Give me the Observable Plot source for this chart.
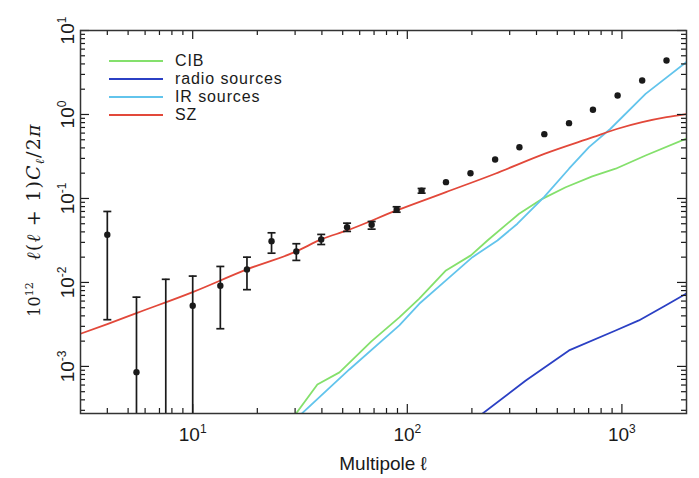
<!DOCTYPE html>
<html><head><meta charset="utf-8">
<script src="https://cdn.jsdelivr.net/npm/d3@7"></script>
<script src="https://cdn.jsdelivr.net/npm/@observablehq/plot@0.6"></script>
<style>body{margin:0;background:#fff} svg{display:block}</style>
</head><body><div id="chart"></div>
<script>
// ---- legend / series ----
const seriesNames = ["CIB", "radio sources", "IR sources", "SZ"];
const seriesColors = ["#84e06c", "#2b40c4", "#62c4ec", "#e2483a"];

// ---- measured band powers (black points) ----
const dataEll = [4, 5.47, 7.49, 10, 13.45, 17.9, 23.3, 30.4, 39.7, 52.4, 68.2, 89.2, 116.6, 151.4, 197, 256.6, 333, 435, 567, 733, 955, 1243, 1614];
const dataVal = [0.037, 8.55e-4, null, 5.28e-3, 9.14e-3, 0.0143, 0.031, 0.0234, 0.0325, 0.0455, 0.0486, 0.0733, 0.1235, 0.1563, 0.2, 0.291, 0.408, 0.583, 0.788, 1.138, 1.683, 2.54, 4.39];
const dataHi  = [0.070, 6.68e-3, 0.0109, 0.0119, 0.0155, 0.020, 0.039, 0.0289, 0.0373, 0.0508, 0.0532, 0.0796, 0.1315, null, null, null, null, null, null, null, null, null, null];
const dataLo  = [0.0036, 1e-5, 1e-5, 1e-5, 2.81e-3, 8.2e-3, 0.0223, 0.0183, 0.0283, 0.0405, 0.0431, 0.0686, 0.1156, null, null, null, null, null, null, null, null, null, null];

// ---- model curves ----
const cibEll = [29.5, 38.1, 48.3, 68, 91.8, 113.7, 151.4, 197.8, 236.3, 331.9, 425.8, 547, 727.5, 935, 1289, 2000];
const cibVal = [2.5e-4, 6.1e-4, 8.5e-4, 1.99e-3, 3.83e-3, 6.4e-3, 0.0139, 0.021, 0.0316, 0.0658, 0.099, 0.136, 0.183, 0.226, 0.325, 0.518];
const radioEll = [218, 356.6, 567, 935, 1200, 1597, 2000];
const radioVal = [2.6e-4, 6.8e-4, 1.55e-3, 2.68e-3, 3.53e-3, 5.32e-3, 7.4e-3];
const irEll = [31.5, 53.7, 91.8, 113.7, 151.4, 201.2, 263, 326, 433.6, 567, 702.4, 885, 1289, 2000];
const irVal = [2.6e-4, 9.2e-4, 3.08e-3, 5.57e-3, 0.01057, 0.02, 0.0316, 0.05, 0.1035, 0.226, 0.408, 0.676, 1.76, 4.22];
const szEll = [3, 4, 5.47, 10, 17.9, 30.4, 39.7, 52.4, 89.2, 151.4, 256.6, 435, 733, 955, 1243, 1614, 2000];
const szVal = [2.45e-3, 3.19e-3, 4.31e-3, 7.67e-3, 0.0143, 0.0234, 0.0325, 0.0416, 0.072, 0.119, 0.197, 0.34, 0.537, 0.676, 0.81, 0.928, 1.01];

// ---- axes ----
const xDomain = [3, 2000];
const yDomain = [2.75e-4, 10];
const xMajor = [10, 100, 1000];
const xMajorExp = ["1", "2", "3"];
const xMinor = [4, 5, 6, 7, 8, 9, 20, 30, 40, 50, 60, 70, 80, 90, 200, 300, 400, 500, 600, 700, 800, 900];
const yMajor = [1e-3, 1e-2, 1e-1, 1, 10];
const yMajorExp = ["-3", "-2", "-1", "0", "1"];
const yMinor = [3e-4, 4e-4, 5e-4, 6e-4, 7e-4, 8e-4, 9e-4,
  2e-3, 3e-3, 4e-3, 5e-3, 6e-3, 7e-3, 8e-3, 9e-3,
  2e-2, 3e-2, 4e-2, 5e-2, 6e-2, 7e-2, 8e-2, 9e-2,
  0.2, 0.3, 0.4, 0.5, 0.6, 0.7, 0.8, 0.9,
  2, 3, 4, 5, 6, 7, 8, 9];
const xTitle = "Multipole ℓ";

// ---- build tables ----
const zip = (xs, ys) => xs.map((x, i) => ({x, y: ys[i]}));
const curves = [
  {name: seriesNames[0], color: seriesColors[0], pts: zip(cibEll, cibVal), curve: "linear"},
  {name: seriesNames[1], color: seriesColors[1], pts: zip(radioEll, radioVal), curve: "linear"},
  {name: seriesNames[2], color: seriesColors[2], pts: zip(irEll, irVal), curve: "linear"},
  {name: seriesNames[3], color: seriesColors[3], pts: zip(szEll, szVal), curve: "monotone-x"}
];
const pts = dataEll.map((x, i) => ({x, y: dataVal[i], hi: dataHi[i], lo: dataLo[i]}));
const errs = pts.filter(d => d.hi != null);
const dots = pts.filter(d => d.y != null);

const W = 699, H = 478, mL = 80, mR = 13, mT = 30, mB = 65;
const fw = W - mL - mR, fh = H - mT - mB;
const majLen = 9, minLen = 5;
const ink = "#1a1a1a";
const cap = {draw(ctx) { ctx.moveTo(-4, 0); ctx.lineTo(4, 0); }};
const FONT = "Liberation Sans, Arial, Helvetica, sans-serif";

const marks = [];
for (const c of curves) {
  marks.push(Plot.line(c.pts, {x: "x", y: "y", stroke: c.color, strokeWidth: 1.8, curve: c.curve, clip: true}));
}
marks.push(Plot.ruleX(errs, {x: "x", y1: "lo", y2: "hi", stroke: ink, strokeWidth: 1.7, clip: true}));
marks.push(Plot.dot(errs, {x: "x", y: "hi", symbol: cap, stroke: ink, strokeWidth: 1.7, clip: true}));
marks.push(Plot.dot(errs, {x: "x", y: "lo", symbol: cap, stroke: ink, strokeWidth: 1.7, clip: true}));
marks.push(Plot.dot(dots, {x: "x", y: "y", r: 3.2, fill: ink, stroke: "none"}));
marks.push(Plot.tickX(xMajor, {x: d => d, insetTop: fh - majLen, stroke: ink, strokeWidth: 1.2}));
marks.push(Plot.tickX(xMajor, {x: d => d, insetBottom: fh - majLen, stroke: ink, strokeWidth: 1.2}));
marks.push(Plot.tickX(xMinor, {x: d => d, insetTop: fh - minLen, stroke: ink, strokeWidth: 1.2}));
marks.push(Plot.tickX(xMinor, {x: d => d, insetBottom: fh - minLen, stroke: ink, strokeWidth: 1.2}));
marks.push(Plot.tickY(yMajor, {y: d => d, insetRight: fw - majLen, stroke: ink, strokeWidth: 1.2}));
marks.push(Plot.tickY(yMajor, {y: d => d, insetLeft: fw - majLen, stroke: ink, strokeWidth: 1.2}));
marks.push(Plot.tickY(yMinor, {y: d => d, insetRight: fw - minLen, stroke: ink, strokeWidth: 1.2}));
marks.push(Plot.tickY(yMinor, {y: d => d, insetLeft: fw - minLen, stroke: ink, strokeWidth: 1.2}));
marks.push(Plot.axisX({ticks: xMajor, tickSize: 0, tickPadding: 14, fontSize: 19,
  tickFormat: d => "10^" + xMajorExp[xMajor.indexOf(d)], label: null}));
marks.push(Plot.axisY({ticks: yMajor, tickSize: 0, tickPadding: 7, fontSize: 19, tickRotate: -90,
  tickFormat: d => "10^" + yMajorExp[yMajor.findIndex(v => Math.abs(Math.log10(v) - Math.log10(d)) < 1e-6)], label: null}));
marks.push(Plot.frame({stroke: "#333", strokeWidth: 1.5}));

const svg = Plot.plot({
  width: W, height: H,
  marginLeft: mL, marginRight: mR, marginTop: mT, marginBottom: mB,
  style: {fontFamily: FONT, color: ink, background: "#fff", overflow: "visible"},
  x: {type: "log", domain: xDomain},
  y: {type: "log", domain: yDomain},
  marks
});
document.getElementById("chart").appendChild(svg);

function supify(sel, size, shift) {
  sel.each(function() {
    const t = this.textContent;
    const parts = t.split("^");
    if (parts.length < 2) return;
    const s = d3.select(this);
    s.text(null);
    s.append("tspan").text(parts[0]);
    s.append("tspan").attr("font-size", size).attr("dy", -shift).text(parts[1]);
  });
}
const root = d3.select(svg);
supify(root.selectAll('g[aria-label="x-axis tick label"] text'), 12, 8);
supify(root.selectAll('g[aria-label="y-axis tick label"] text'), 12, 8);

root.append("text").attr("x", mL + fw / 2).attr("y", 470).attr("text-anchor", "middle")
  .attr("font-family", FONT).attr("font-size", 19).attr("fill", ink).text(xTitle);

// y title: 10^12  l(l+1)C_l/2pi
const SERIF = "DejaVu Serif, Liberation Serif, serif";
const yt = root.append("text").attr("transform", "translate(40,220) rotate(-90)")
  .attr("text-anchor", "middle").attr("font-family", SERIF)
  .attr("font-size", 19).attr("letter-spacing", 1.2).attr("fill", ink);
yt.append("tspan").attr("font-size", 16).attr("letter-spacing", 0).text("10");
yt.append("tspan").attr("font-size", 11).attr("letter-spacing", 0).attr("dy", -7).text("12");
yt.append("tspan").attr("dy", 7).attr("dx", 22).attr("font-style", "italic").text("ℓ");
yt.append("tspan").text("(");
yt.append("tspan").attr("font-style", "italic").text("ℓ");
yt.append("tspan").text(" + 1)");
yt.append("tspan").attr("font-style", "italic").text("C");
yt.append("tspan").attr("font-size", 12).attr("dy", 4).attr("font-style", "italic").text("ℓ");
yt.append("tspan").attr("dy", -4).text("/2");
yt.append("tspan").attr("font-style", "italic").text("π");

// legend
const lg = root.append("g");
seriesNames.forEach((n, i) => {
  const y = 61 + i * 18;
  lg.append("line").attr("x1", 109).attr("x2", 163).attr("y1", y).attr("y2", y)
    .attr("stroke", seriesColors[i]).attr("stroke-width", 2.2);
  lg.append("text").attr("x", 175).attr("y", y + 5).attr("text-anchor", "start").attr("font-family", FONT)
    .attr("font-size", 16).attr("letter-spacing", 0.9).attr("fill", ink).text(n);
});
</script></body></html>
